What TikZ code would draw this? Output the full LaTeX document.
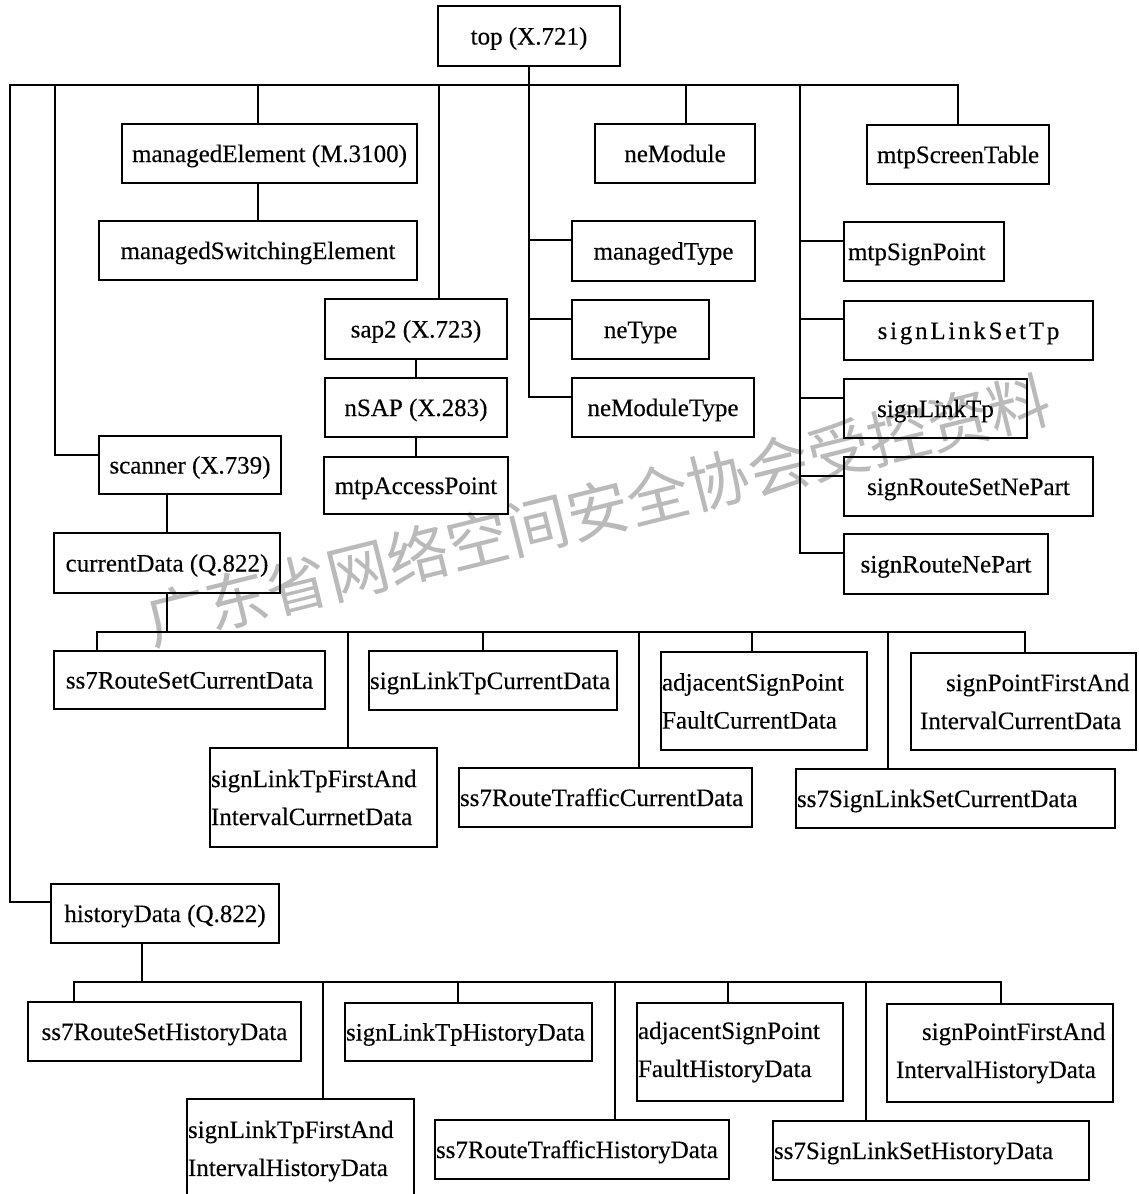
\documentclass[tikz,border=0pt]{standalone}
\usepackage{fontspec}
\setmainfont[FakeBold=0.3]{Liberation Serif}
\newfontfamily\cjkfont{Noto Sans CJK SC}
\newfontfamily\widefont[LetterSpace=11,FakeBold=0.3]{Liberation Serif}
\hyphenpenalty=10000
\exhyphenpenalty=10000
% centred one-line box: name, x1, y1, x2, y2, text
\newcommand{\cbox}[6]{%
  \pgfmathsetmacro\bxW{#4-#2}\pgfmathsetmacro\bxH{#5-#3}%
  \node[box, one, minimum width=\bxW pt, minimum height=\bxH pt] (#1) at ({(#2+#4)/2},{(#3+#5)/2}) {#6};}
% left-aligned box: [options], name, x1, y1, x2, y2, padding, text
\newcommand{\lbox}[8][]{%
  \pgfmathsetmacro\bxW{#5-#3}\pgfmathsetmacro\bxH{#6-#4}\pgfmathsetmacro\bxT{#5-#3-2*#7}%
  \node[box, align=left, inner xsep=#7 pt, text width=\bxT pt, minimum width=\bxW pt, minimum height=\bxH pt, #1] (#2) at ({(#3+#5)/2},{(#4+#6)/2}) {#8};}
\begin{document}
\begin{tikzpicture}[x=1pt,y=-1pt,
  box/.style={draw, line width=2pt, inner sep=0pt, outer sep=0pt,
    font=\fontsize{25}{38}\selectfont, align=center},
  one/.style={text height=19pt, text depth=2pt},
  link/.style={line width=2pt},
  wm/.style={text=black!27, font=\cjkfont\fontsize{62}{62}\selectfont, inner sep=0pt}]
\useasboundingbox (0,0) rectangle (1138,1194);

% watermark
\node[wm, rotate=14] (wmark) at (598,510) {广东省网络空间安全协会受控资料};

% ---- upper tree ----
\cbox{top}{438}{6}{620}{66}{top (X.721)}
\cbox{me}{122}{124}{417}{183}{managedElement (M.3100)}
\cbox{mse}{99}{221}{417}{280}{managedSwitchingElement}
\cbox{nm}{595}{124}{755}{183}{neModule}
\cbox{mst}{867}{125}{1049}{184}{mtpScreenTable}
\cbox{mt}{572}{221}{755}{281}{managedType}
\lbox[one]{msp}{844}{222}{1004}{281}{4}{mtpSignPoint}
\cbox{sap}{325}{299}{507}{359}{sap2 (X.723)}
\cbox{nsap}{325}{378}{507}{437}{nSAP (X.283)}
\cbox{map}{324}{457}{508}{514}{mtpAccessPoint}
\cbox{nt}{572}{300}{709}{359}{neType}
\cbox{nmt}{572}{378}{754}{437}{neModuleType}
\cbox{slst}{844}{301}{1093}{360}{\widefont signLinkSetTp}
\cbox{sltp}{844}{379}{1027}{438}{signLinkTp}
\cbox{srsnp}{844}{457}{1093}{516}{signRouteSetNePart}
\cbox{srnp}{844}{534}{1048}{594}{signRouteNePart}
\cbox{sc}{99}{436}{281}{494}{scanner (X.739)}
\cbox{cd}{54}{533}{280}{593}{currentData (Q.822)}

% ---- current data ----
\cbox{c1}{54}{651}{325}{709}{ss7RouteSetCurrentData}
\lbox[one]{c2}{369}{651}{617}{710}{1}{signLinkTpCurrentData}
\lbox{c3}{210}{748}{437}{847}{1}{signLinkTpFirstAnd\\IntervalCurrnetData}
\lbox[one]{c4}{459}{768}{752}{827}{1}{ss7RouteTrafficCurrentData}
\lbox{c5}{661}{652}{867}{750}{1}{adjacentSignPoint\\FaultCurrentData}
\lbox{c6}{911}{653}{1136}{750}{9}{\hspace*{26pt}signPointFirstAnd\\IntervalCurrentData}
\lbox[one]{c7}{796}{769}{1115}{828}{1}{ss7SignLinkSetCurrentData}

% ---- history data ----
\cbox{hd}{51}{884}{279}{943}{historyData (Q.822)}
\cbox{h1}{28}{1002}{301}{1061}{ss7RouteSetHistoryData}
\lbox[one]{h2}{345}{1003}{592}{1061}{1}{signLinkTpHistoryData}
\node[box, draw=none, align=left, inner xsep=1pt, text width=225pt,
  minimum width=227pt, minimum height=104pt] (h3) at (300.5,1151)
  {signLinkTpFirstAnd\\IntervalHistoryData};
\draw[link] (h3.west |- 0,1196) -- (h3.north west) -- (h3.north east) -- (h3.east |- 0,1196);
\lbox[one]{h4}{435}{1120}{729}{1179}{1}{ss7RouteTrafficHistoryData}
\lbox{h5}{637}{1003}{843}{1101}{1}{adjacentSignPoint\\FaultHistoryData}
\lbox{h6}{887}{1004}{1113}{1102}{9}{\hspace*{26pt}signPointFirstAnd\\IntervalHistoryData}
\lbox[one]{h7}{773}{1121}{1089}{1180}{1}{ss7SignLinkSetHistoryData}

% ---- top-level connectors ----
\coordinate (bL) at (10,85);
\coordinate (bR) at (958,85);
\coordinate (dSc) at (55,85);
\coordinate (dMe) at (258,85);
\coordinate (dSap) at (439,85);
\coordinate (dNm) at (686,85);
\coordinate (dMtp) at (800,85);

\draw[link] (top.south) -- (top.south |- bL);
\draw[link] (hd.west |- 0,902) -| (bL) -- (bR) -- (mst.north);
\draw[link] (sc.west |- 0,455) -| (dSc);
\draw[link] (dMe) -- (dMe |- me.north);
\draw[link] (dMe |- me.south) -- (dMe |- mse.north);
\draw[link] (dSap) -- (dSap |- sap.north);
\draw[link] (dNm) -- (dNm |- nm.north);
\draw[link] (sap.south) -- (nsap.north);
\draw[link] (nsap.south) -- (map.north);
\draw[link] (cd.north |- sc.south) -- (cd.north);

% type column under top
\draw[link] (top.south |- bL) -- (top.south |- 0,397) -- (nmt.west |- 0,397);
\draw[link] (top.south |- 0,240) -- (mt.west |- 0,240);
\draw[link] (top.south |- 0,319) -- (nt.west |- 0,319);

% mtp column
\draw[link] (dMtp) -- (dMtp |- 0,553) -- (srnp.west |- 0,553);
\draw[link] (dMtp |- 0,241) -- (msp.west |- 0,241);
\draw[link] (dMtp |- 0,319) -- (slst.west |- 0,319);
\draw[link] (dMtp |- 0,398) -- (sltp.west |- 0,398);
\draw[link] (dMtp |- 0,476) -- (srsnp.west |- 0,476);

% ---- current data connectors ----
\coordinate (cL) at (97,632);
\coordinate (cR) at (1025,632);
\coordinate (cD3) at (348,632);
\coordinate (cD2) at (483,632);
\coordinate (cD4) at (639,632);
\coordinate (cD5) at (752,632);
\coordinate (cD7) at (888,632);
\draw[link] (cd.south) -- (cd.south |- cL);
\draw[link] (cL |- c1.north) -- (cL) -- (cR) -- (cR |- c6.north);
\draw[link] (cD3) -- (cD3 |- c3.north);
\draw[link] (cD2) -- (cD2 |- c2.north);
\draw[link] (cD4) -- (cD4 |- c4.north);
\draw[link] (cD5) -- (cD5 |- c5.north);
\draw[link] (cD7) -- (cD7 |- c7.north);

% ---- history data connectors ----
\coordinate (hS) at (142,982);
\coordinate (hL) at (74,982);
\coordinate (hR) at (1001,982);
\coordinate (hD3) at (323,982);
\coordinate (hD2) at (458,982);
\coordinate (hD4) at (615,982);
\coordinate (hD5) at (728,982);
\coordinate (hD7) at (866,982);
\draw[link] (hS |- hd.south) -- (hS);
\draw[link] (hL |- h1.north) -- (hL) -- (hR) -- (hR |- h6.north);
\draw[link] (hD3) -- (hD3 |- h3.north);
\draw[link] (hD2) -- (hD2 |- h2.north);
\draw[link] (hD4) -- (hD4 |- h4.north);
\draw[link] (hD5) -- (hD5 |- h5.north);
\draw[link] (hD7) -- (hD7 |- h7.north);
\end{tikzpicture}
\end{document}
